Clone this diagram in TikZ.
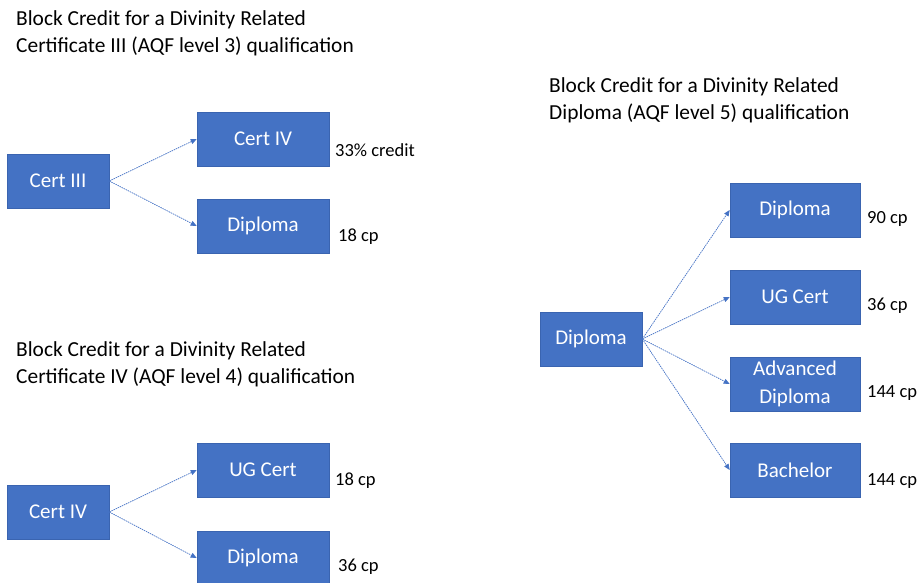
\documentclass[tikz,border=0pt]{standalone}
\usepackage{fontspec}
\setmainfont{Carlito}
\usetikzlibrary{arrows.meta}
\definecolor{boxblue}{HTML}{4472C4}
\definecolor{boxedge}{HTML}{3A64B0}
\begin{document}
\begin{tikzpicture}[x=1pt,y=-1pt,
  blk/.style={fill=boxblue,draw=boxedge,line width=0.6pt,text=white,inner sep=0pt,
    font=\fontsize{21}{23}\selectfont,align=center},
  src/.style={blk,minimum width=102pt,minimum height=54pt},
  dst/.style={blk,minimum width=132pt,minimum height=54pt},
  lab/.style={anchor=west,inner sep=0pt,font=\fontsize{18.5}{20}\selectfont},
  ttl/.style={anchor=base west,inner sep=0pt,font=\fontsize{21.4}{24}\selectfont},
  link/.style={draw=boxblue,line width=0.7pt,dash pattern=on 1.5pt off 0.8pt,
    -{Triangle[length=6pt,width=5pt]}}]
\useasboundingbox (0,0) rectangle (922,582);
% titles
\node[ttl] (t1a) at (16,25) {Block Credit for a Divinity Related};
\node[ttl] (t1b) at (16,52) {Certificate III (AQF level 3) qualification};
\node[ttl] (t2a) at (16,356) {Block Credit for a Divinity Related};
\node[ttl] (t2b) at (16,383) {Certificate IV (AQF level 4) qualification};
\node[ttl] (t3a) at (549,92) {Block Credit for a Divinity Related};
\node[ttl] (t3b) at (549,119) {Diploma (AQF level 5) qualification};
% group 1
\node[src] (c3) at (58,181) {Cert III};
\node[dst] (c3a) at (263,139) {Cert IV};
\node[dst] (c3b) at (263,226) {Diploma};
\node[lab] (l3a) at (335,150) {33\% credit};
\node[lab] (l3b) at (338,237) {18 cp};
\draw[link] (c3.east) -- (c3a.west);
\draw[link] (c3.east) -- (c3b.west);
% group 2
\node[src] (c4) at (58,512) {Cert IV};
\node[dst] (c4a) at (263,470) {UG Cert};
\node[dst] (c4b) at (263,558) {Diploma};
\node[lab] (l4a) at (335,481) {18 cp};
\node[lab] (l4b) at (338,567) {36 cp};
\draw[link] (c4.east) -- (c4a.west);
\draw[link] (c4.east) -- (c4b.west);
% group 3
\node[src] (d) at (591,339) {Diploma};
\node[dst,minimum width=130pt] (da) at (795,210) {Diploma};
\node[dst,minimum width=130pt] (db) at (795,297) {UG Cert};
\node[dst,minimum width=130pt,font=\fontsize{21}{28}\selectfont] (dc) at (795,384) {Advanced\\Diploma};
\node[dst,minimum width=130pt] (dd) at (795,470) {Bachelor};
\node[lab] (lda) at (867,219) {90 cp};
\node[lab] (ldb) at (867,306) {36 cp};
\node[lab] (ldc) at (867,393) {144 cp};
\node[lab] (ldd) at (867,481) {144 cp};
\draw[link] (d.east) -- (da.west);
\draw[link] (d.east) -- (db.west);
\draw[link] (d.east) -- (dc.west);
\draw[link] (d.east) -- (dd.west);
\end{tikzpicture}
\end{document}
